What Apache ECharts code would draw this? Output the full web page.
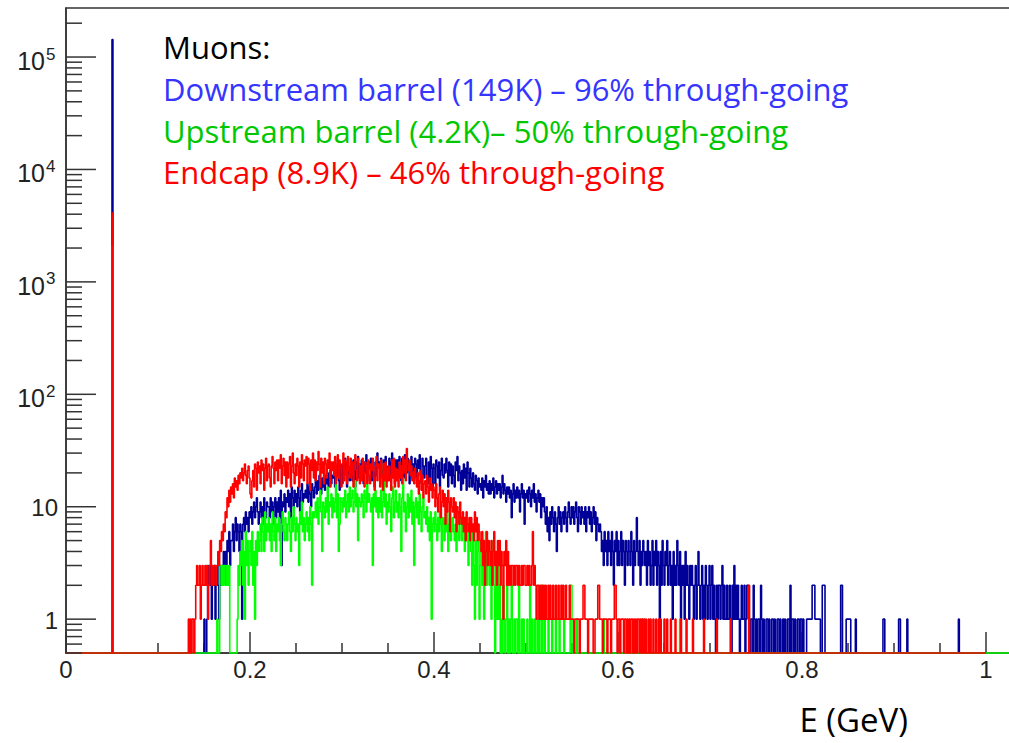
<!DOCTYPE html>
<html>
<head>
<meta charset="utf-8">
<script src="https://cdn.jsdelivr.net/npm/echarts@6/dist/echarts.min.js"></script>
<style>
  html, body { margin: 0; padding: 0; background: #fff; }
  #chart { width: 1009px; height: 743px; }
</style>
</head>
<body>
<div id="chart"></div>
<script>
// Muon energy spectra, 1 MeV bins, log scale.
const BIN = 0.001;
const SPIKE_LO = 0.050;           // through-going muons pile up in one bin
const X_MAX = 1.05;
const Y_MIN = 0.5;
const Y_MAX = 2.73e5;

const xTickLabels = ['0', '0.2', '0.4', '0.6', '0.8', '1'];
const yDecades = [-1, 0, 1, 2, 3, 4, 5];
const yMinorSteps = [2, 3, 4, 5, 6, 7, 8, 9];

const legendTitle = 'Muons:';
const legendLabels = [
  'Downstream barrel (149K) – 96% through-going',
  'Upstream barrel (4.2K)– 50% through-going',
  'Endcap (8.9K) – 46% through-going'
];
const axisTitle = 'E (GeV)';

// Downstream barrel
const downstreamSpike = 143000;
const downstreamStart = 0.150;
const downstreamCounts = [
  1,0,0,1,2,3,2,3,1,2,   2,3,1,2,3,2,1,3,2,3,   3,4,3,4,2,5,4,6,3,5,   5,7,4,6,8,5,7,6,4,7,
  6,1,7,8,6,9,7,8,6,9,   8,10,7,9,11,8,10,12,9,7,   9,11,8,10,7,12,9,8,11,10,   10,8,12,9,11,7,10,12,8,11,
  9,12,8,14,3,11,10,13,9,12,   11,14,10,13,8,15,12,10,14,11,   13,10,15,12,9,14,16,11,13,12,   14,12,16,11,15,13,10,16,14,12,
  15,18,13,17,14,19,16,13,18,15,   17,14,19,16,20,15,18,21,16,19,   18,23,15,22,19,26,17,14,24,21,   16,24,19,27,22,15,25,20,17,23,
  23,17,26,21,15,25,19,28,18,24,   19,26,22,16,25,20,29,17,21,25,   22,27,17,26,20,15,25,19,30,23,   25,18,27,21,16,26,20,28,23,17,
  21,27,17,25,30,19,24,16,26,22,   26,19,28,22,17,27,23,18,29,24,   20,27,23,16,25,28,18,24,21,27,   24,17,26,22,29,19,16,27,23,18,
  23,27,19,16,25,18,28,22,15,24,   22,16,26,23,18,25,15,21,27,19,   18,24,20,27,21,15,25,19,24,16,   23,19,15,25,21,28,17,23,20,14,
  21,16,24,18,22,14,25,20,15,22,   18,15,20,16,14,19,17,13,18,15,   16,14,18,12,17,15,19,14,16,13,   17,13,16,14,18,12,15,17,13,16,
  14,16,12,15,19,13,16,14,11,15,   13,15,12,14,8,13,16,11,14,12,   15,12,14,9,13,16,12,14,7,13,   12,14,11,15,13,10,14,12,16,11,
  13,9,12,14,11,13,8,12,10,12,   9,7,10,6,8,5,9,7,10,8,   6,9,7,4,8,10,7,9,6,8,   9,7,10,8,6,9,11,8,7,10,
  8,10,7,9,11,8,6,10,9,7,   10,8,9,7,10,6,9,8,10,7,   9,6,8,10,7,9,5,8,7,6,   7,6,4,5,3,6,4,5,3,6,
  4,5,3,6,4,2,5,4,6,3,   5,3,4,6,3,5,4,2,5,4,   3,5,4,3,6,4,2,5,3,4,   8,4,3,5,2,4,3,5,4,3,
  4,2,5,3,4,2,3,5,2,4,   3,5,2,4,3,1,4,2,5,3,   2,4,3,5,2,3,4,2,3,1,   4,2,3,2,5,3,2,4,1,3,
  2,3,1,4,2,3,2,1,3,2,   3,2,1,2,3,1,2,4,2,1,   2,3,1,2,1,3,2,1,2,3,   1,2,3,1,2,1,0,2,1,2,
  2,1,2,3,1,2,1,1,2,1,   1,2,1,0,2,1,3,1,2,1,   2,1,0,1,2,1,1,2,0,1,   2,2,1,0,1,1,0,2,1,0,
  1,0,1,1,0,2,1,0,1,0,   0,1,1,0,1,0,0,1,1,0,   1,0,0,1,1,0,1,0,0,1,   0,1,0,0,1,1,0,2,0,1,
  1,0,1,0,0,1,1,0,1,1,   0,1,0,0,0,1,1,1,1,1,   1,2,2,2,1,1,1,1,1,1,   0,0,2,2,2,0,0,0,0,0,
  0,0,0,0,0,0,0,0,0,0,   0,0,2,2,0,0,0,0,1,1,   1,1,1,0,0,0,0,0,1,0,   0,0,0,0,0,0,0,0,0,0,
  0,0,0,0,0,0,0,0,0,0,   0,0,0,0,0,0,0,0,1,1,   0,0,0,0,0,0,0,0,0,0,   0,0,0,0,0,1,1,0,0,0,
  0,0,0,0,1,0,0,0,0,0,   0,0,0,0,0,0,0,0,0,0,   0,0,0,0,0,0,0,0,0,0,   0,0,0,0,0,0,0,0,0,0,
  0,0,0,0,0,0,0,0,0,0,   0,0,0,0,0,0,0,0,0,0,   1
];

// Upstream barrel
const upstreamSpike = 2100;
const upstreamStart = 0.160;
const upstreamCounts = [
  0,0,0,0,1,0,0,3,3,2,   3,2,3,3,2,3,2,3,0,0,   0,0,0,0,0,0,1,3,2,4,   3,5,2,4,1,6,3,5,2,4,
  5,3,6,2,4,1,5,3,6,4,   5,7,4,8,6,4,9,5,7,6,   8,5,7,4,9,6,5,8,4,7,   6,8,5,3,7,9,6,5,8,7,
  5,7,9,6,4,8,6,10,7,5,   8,6,7,3,9,7,11,6,8,5,   7,9,6,8,5,10,7,2,9,8,   9,11,8,12,7,10,14,9,4,11,
  10,8,12,9,15,7,11,10,13,8,   12,9,11,16,8,13,4,7,12,11,   9,12,10,14,8,11,13,9,15,10,   12,14,9,11,17,10,13,5,12,11,
  10,13,11,8,14,12,9,16,11,13,   11,9,12,3,13,10,14,9,12,8,   12,9,14,8,11,24,10,13,7,11,   9,13,10,6,12,15,8,11,14,9,
  11,8,13,10,4,12,18,9,11,6,   10,13,8,12,9,14,7,11,3,10,   12,8,11,7,13,9,6,10,12,8,   9,7,10,6,8,5,9,1,7,8,
  6,9,7,5,8,6,9,7,4,8,   7,5,8,6,9,4,7,8,5,6,   8,6,5,7,4,9,6,5,8,7,   5,7,6,4,8,5,7,3,6,5,
  4,2,6,3,1,5,2,4,6,1,   3,5,2,4,1,3,6,2,4,3,   2,4,1,3,5,2,0,3,1,4,   1,2,0,1,0,2,1,0,1,2,
  0,1,0,1,2,0,0,1,0,1,   1,0,2,0,0,1,0,1,0,0,   0,1,0,0,2,0,1,0,0,1,   0,0,1,0,1,0,0,2,0,0,
  1,0,0,0,1,0,0,0,1,0,   0,0,1,0,0,0,1,0,0,0,   0,1,0,0,0,0,0,0,2,2,   0,0,0,0,0,1,0,0,0,0,
  0,0,0,0,0,0,0,0,0,0,   0,0,0,0,0,0,0,0,0,0,   0,0,0,0,1,0,0,0,0,0,   0,0,0,0,0,0,0,0,0,0,
  0,0,0,0,0,0,0,0,0,0,   0,0,0,0,0,0,0,0,0,0,   0,0,0,0,0,0,1,0,0,0,   0,0,0,0,0,0,0,0,0,0,
  0,0,0,0,0,0,0,0,0,0,   0,0,0,0,0,0,0,0,0,0,   0,0,0,0,0,0,0,1
];

// Endcap
const endcapSpike = 4100;
const endcapStart = 0.130;
const endcapCounts = [
  0,0,0,1,0,1,0,1,1,0,   1,2,3,2,2,3,1,2,3,2,   2,3,2,3,1,2,3,5,2,3,   2,3,3,2,3,4,3,5,4,6,
  5,7,6,9,8,12,10,14,11,15,   13,16,12,18,15,17,14,19,16,20,   18,22,17,20,24,19,16,21,23,18,   13,12,17,21,15,24,22,14,25,20,
  23,16,26,21,24,14,22,27,17,23,   24,18,15,23,28,22,16,25,21,26,   17,26,22,29,16,23,27,19,25,15,   25,18,24,28,15,23,30,20,16,24,
  19,27,23,15,25,18,29,24,17,26,   23,28,16,27,24,14,26,21,30,18,   26,17,25,21,31,24,15,27,20,25,   16,27,24,18,26,22,30,15,25,21,
  25,19,28,16,24,29,18,26,22,15,   24,30,17,26,25,16,28,21,18,27,   19,25,15,24,29,21,17,27,24,16,   23,17,27,20,15,25,23,16,26,19,
  16,24,21,27,18,14,23,28,17,24,   22,15,26,19,14,24,17,25,15,22,   17,23,19,14,26,18,27,15,22,17,   21,15,25,18,23,16,28,20,26,17,
  33,24,21,26,19,23,17,20,16,22,   18,15,20,13,17,21,14,19,12,16,   17,13,19,15,11,18,14,16,12,15,   14,10,16,12,9,13,15,8,11,14,
  10,13,7,12,9,14,11,6,12,10,   9,12,8,11,6,10,9,7,11,8,   7,9,6,8,5,9,7,6,8,5,   8,6,7,5,9,6,8,5,7,6,
  5,4,6,3,5,2,4,6,3,5,   4,3,5,2,4,6,3,4,2,5,   3,5,2,4,3,1,4,3,5,2,   4,2,3,2,3,3,2,3,2,3,
  3,2,3,2,2,3,2,3,3,2,   2,3,2,3,2,2,3,6,2,3,   2,1,2,2,1,2,1,2,1,2,   1,2,1,1,2,1,2,1,1,2,
  1,1,2,1,1,2,1,1,2,1,   2,1,1,2,1,1,1,2,1,1,   1,1,0,1,1,1,1,1,0,1,   1,1,2,2,1,1,1,0,1,1,
  1,1,1,0,0,1,1,1,2,2,   1,1,1,0,1,1,1,1,0,1,   1,1,0,1,1,1,2,2,1,0,   1,1,0,1,1,1,0,1,1,0,
  1,0,1,0,1,1,0,1,0,1,   0,1,1,0,1,0,1,0,1,0,   1,0,0,1,0,1,0,0,1,0,   0,1,0,0,1,0,1,0,0,0,
  1,0,0,1,0,0,0,1,0,0,   0,0,1,0,0,0,0,0,1,0,   0,0,0,0,1,0,0,0,0,0,   0,1,0,0,0,0,0,0,0,0,
  0,0,0,1,0,0,0,0,0,0,   0,0,0,0,0,0,0,1,0,0,   0,0,0,0,0,0,0,0,0,0,   0,0,1,0,0,0,0,0,0,0,
  0,0,0,0,0,0,0,0,0,0,   0,0,2
];

const AXIS_COLOR = '#333';
const LABEL_COLOR = '#222';
const AXIS_FONT = '"Liberation Sans", Arial, Helvetica, sans-serif';
const TEXT_FONT = '"Open Sans", Lato, sans-serif';

const round6 = v => Math.round(v * 1e6) / 1e6;

// Step outline of a histogram; empty bins sit on the bottom of the frame.
function histogramOutline(spike, start, counts, end) {
  const pts = [[0, Y_MIN], [SPIKE_LO, spike], [round6(SPIKE_LO + BIN), Y_MIN]];
  counts.forEach((c, i) => pts.push([round6(start + i * BIN), c > 0 ? c : Y_MIN]));
  pts.push([round6(start + counts.length * BIN), Y_MIN]);
  pts.push([end, Y_MIN]);
  return pts;
}

// Log-axis tick marks: decades get a long tick and a label.
const yTicks = [];
yDecades.forEach(e => {
  [1].concat(yMinorSteps).forEach(m => {
    const v = m * Math.pow(10, e);
    if (v >= Y_MIN && v <= Y_MAX) yTicks.push([0, v, m === 1 ? 1 : 0, e]);
  });
});

function renderYTick(params, api) {
  const v = api.value(1), major = api.value(2), e = api.value(3);
  const p = api.coord([0, v]);
  const children = [{
    type: 'line',
    shape: { x1: p[0], y1: p[1], x2: p[0] + (major ? 30 : 16), y2: p[1] },
    style: { stroke: AXIS_COLOR, lineWidth: 1.5 }
  }];
  if (major) {
    const base = { fill: LABEL_COLOR, verticalAlign: 'middle', textVerticalAlign: 'middle' };
    if (e <= 1) {
      children.push({ type: 'text', x: p[0] - 8, y: p[1] + 1,
        style: Object.assign({ text: e === 0 ? '1' : '10', font: '24px ' + AXIS_FONT,
          align: 'right', textAlign: 'right' }, base) });
    } else {
      children.push({ type: 'text', x: p[0] - 21, y: p[1] + 4,
        style: Object.assign({ text: '10', font: '25px ' + AXIS_FONT,
          align: 'right', textAlign: 'right' }, base) });
      children.push({ type: 'text', x: p[0] - 20, y: p[1] - 3,
        style: Object.assign({ text: String(e), font: '17px ' + AXIS_FONT,
          align: 'left', textAlign: 'left' }, base) });
    }
  }
  return { type: 'group', children };
}

const histLine = (name, color, data) => ({
  name, type: 'line', data, step: 'end', symbol: 'none', showSymbol: false,
  clip: false, silent: true, animation: false,
  lineStyle: { color, width: 1.6 }
});

const chart = echarts.init(document.getElementById('chart'), null, { renderer: 'svg' });

const legendColors = ['#3535ff', '#00c800', '#ff0000'];
const legendY = [89, 131, 172];
const graphics = [{
  type: 'text', x: 163, y: 47, z: 100,
  style: { text: legendTitle, font: '31px ' + TEXT_FONT, fill: '#000',
    verticalAlign: 'middle', textVerticalAlign: 'middle' }
}].concat(legendLabels.map((t, i) => ({
  type: 'text', x: 163, y: legendY[i], z: 100,
  style: { text: t, font: '31px ' + TEXT_FONT, fill: legendColors[i],
    verticalAlign: 'middle', textVerticalAlign: 'middle' }
}))).concat([{
  type: 'text', x: 908, y: 719, z: 100,
  style: { text: axisTitle, font: '33px ' + TEXT_FONT, fill: '#000',
    align: 'right', textAlign: 'right', verticalAlign: 'middle', textVerticalAlign: 'middle' }
}]);

chart.setOption({
  animation: false,
  backgroundColor: '#fff',
  grid: {
    left: 66, top: 8, width: 966, height: 645,
    show: true, borderColor: AXIS_COLOR, borderWidth: 1.5, backgroundColor: 'transparent',
    containLabel: false, outerBoundsMode: 'none'
  },
  xAxis: {
    type: 'value', min: 0, max: X_MAX, interval: 0.2,
    axisLine: { show: true, onZero: false, lineStyle: { color: AXIS_COLOR, width: 1.5 } },
    axisTick: { show: true, inside: true, length: 21, lineStyle: { color: AXIS_COLOR, width: 1.5 } },
    minorTick: { show: true, splitNumber: 4, length: 10, lineStyle: { color: AXIS_COLOR, width: 1.5 } },
    splitLine: { show: false }, minorSplitLine: { show: false },
    axisLabel: {
      margin: 4, color: LABEL_COLOR, fontSize: 24, fontFamily: AXIS_FONT,
      showMaxLabel: true, hideOverlap: false,
      formatter: v => {
        const i = Math.round(v / 0.2);
        return Math.abs(v - i * 0.2) < 1e-9 && xTickLabels[i] !== undefined ? xTickLabels[i] : '';
      }
    }
  },
  yAxis: {
    type: 'log', logBase: 10, min: Y_MIN, max: Y_MAX,
    axisLine: { show: true, lineStyle: { color: AXIS_COLOR, width: 1.5 } },
    axisTick: { show: false }, axisLabel: { show: false },
    splitLine: { show: false }, minorTick: { show: false }
  },
  graphic: graphics,
  series: [
    histLine('Downstream barrel', '#000099',
      histogramOutline(downstreamSpike, downstreamStart, downstreamCounts, 1.0)),
    histLine('Upstream barrel', '#00ff00',
      histogramOutline(upstreamSpike, upstreamStart, upstreamCounts, X_MAX)),
    histLine('Endcap', '#ff0000',
      histogramOutline(endcapSpike, endcapStart, endcapCounts, 1.0)),
    {
      type: 'custom', coordinateSystem: 'cartesian2d', data: yTicks,
      renderItem: renderYTick, silent: true, animation: false, clip: false, z: 5
    }
  ]
});
</script>
</body>
</html>
